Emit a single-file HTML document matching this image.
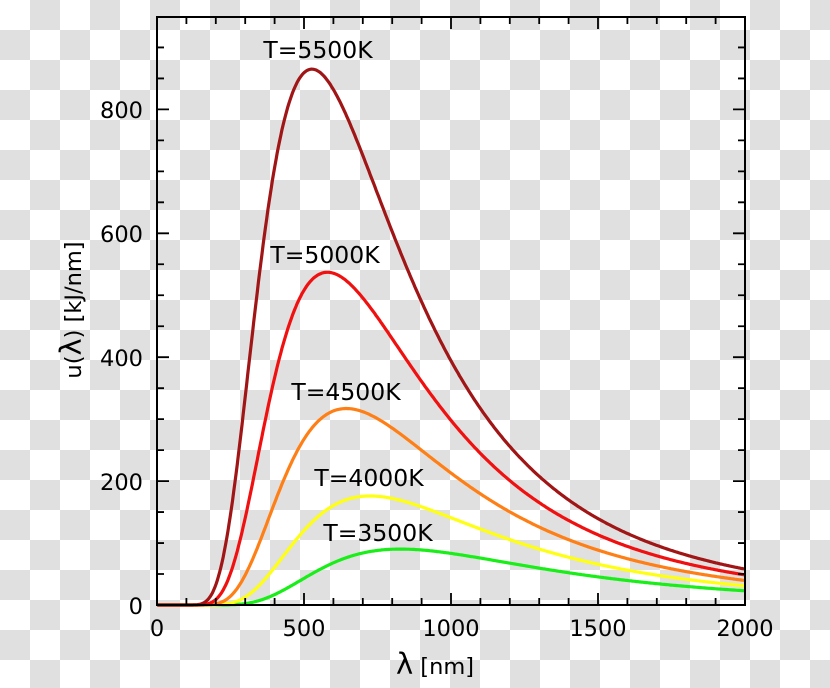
<!DOCTYPE html>
<html><head><meta charset="utf-8"><style>
body{margin:0}
svg{display:block}
text{font-family:"DejaVu Sans","Liberation Sans",sans-serif;fill:#000}
</style></head><body>
<svg id="s" width="830" height="688" xmlns="http://www.w3.org/2000/svg">
<defs><pattern id="cb" width="60" height="60" patternUnits="userSpaceOnUse">
<rect width="60" height="60" fill="#fff"/><rect x="30" width="30" height="30" fill="#e0e0e0"/><rect y="30" width="30" height="30" fill="#e0e0e0"/></pattern></defs>
<rect width="830" height="688" fill="url(#cb)"/>
<g id="curves" fill="none" stroke-width="3.2"></g>
<rect x="157" y="17" width="588" height="588" fill="none" stroke="#000" stroke-width="2"/>
<g id="ticks" stroke="#000" stroke-width="1.8"></g>
<g font-size="22.5">
<text x="157" y="636" text-anchor="middle">0</text>
<text x="304" y="636" text-anchor="middle">500</text>
<text x="451" y="636" text-anchor="middle">1000</text>
<text x="598" y="636" text-anchor="middle">1500</text>
<text x="745" y="636" text-anchor="middle">2000</text>
<text x="143" y="614" text-anchor="end">0</text>
<text x="143" y="490" text-anchor="end">200</text>
<text x="143" y="366" text-anchor="end">400</text>
<text x="143" y="242" text-anchor="end">600</text>
<text x="143" y="118" text-anchor="end">800</text>
<g font-size="23.5">
<text x="318" y="58" text-anchor="middle">T=5500K</text>
<text x="325" y="263" text-anchor="middle">T=5000K</text>
<text x="346" y="400" text-anchor="middle">T=4500K</text>
<text x="369" y="486" text-anchor="middle">T=4000K</text>
<text x="378" y="541" text-anchor="middle">T=3500K</text>
</g>
<text x="435" y="674" text-anchor="middle"><tspan font-size="29">λ</tspan> [nm]</text>
<text transform="translate(81,310) rotate(-90)" text-anchor="middle">u(<tspan font-size="29">λ</tspan>)  [kJ/nm]</text>
</g>
</svg>
<script>
var X=function(l){return 157+l*588/2000},Y=function(v){return 605-v*0.6195};
var c2=1.4388e7;
function f(l,T){return Math.pow(l,-5)/(Math.exp(c2/(l*T))-1);}
var A=865/f(2897772/5500,5500);
var g=document.getElementById('curves'),ns="http://www.w3.org/2000/svg";
[[3500,"#19ee19"],[4000,"#ffff14"],[4500,"#ff7f17"],[5000,"#f01010"],[5500,"#a01515"]].forEach(function(c){
var d="";for(var l=1;l<=2000;l+=4){var v=A*f(l,c[0]);d+=(d?"L":"M")+X(l).toFixed(1)+","+Y(v).toFixed(1);}
var p=document.createElementNS(ns,"path");p.setAttribute("d",d);p.setAttribute("stroke",c[1]);g.appendChild(p);});
var t=document.getElementById('ticks'),s="";
for(var l=100;l<2000;l+=100){var L=(l%500==0)?12:7;s+="M"+X(l)+",605v-"+L+"M"+X(l)+",17v"+L;}
for(var v=50;v<950;v+=50){var L=(v%200==0)?12:7;var y=Y(v);s+="M157,"+y+"h"+L+"M745,"+y+"h-"+L;}
var p=document.createElementNS(ns,"path");p.setAttribute("d",s);t.appendChild(p);
</script>
</body></html>
